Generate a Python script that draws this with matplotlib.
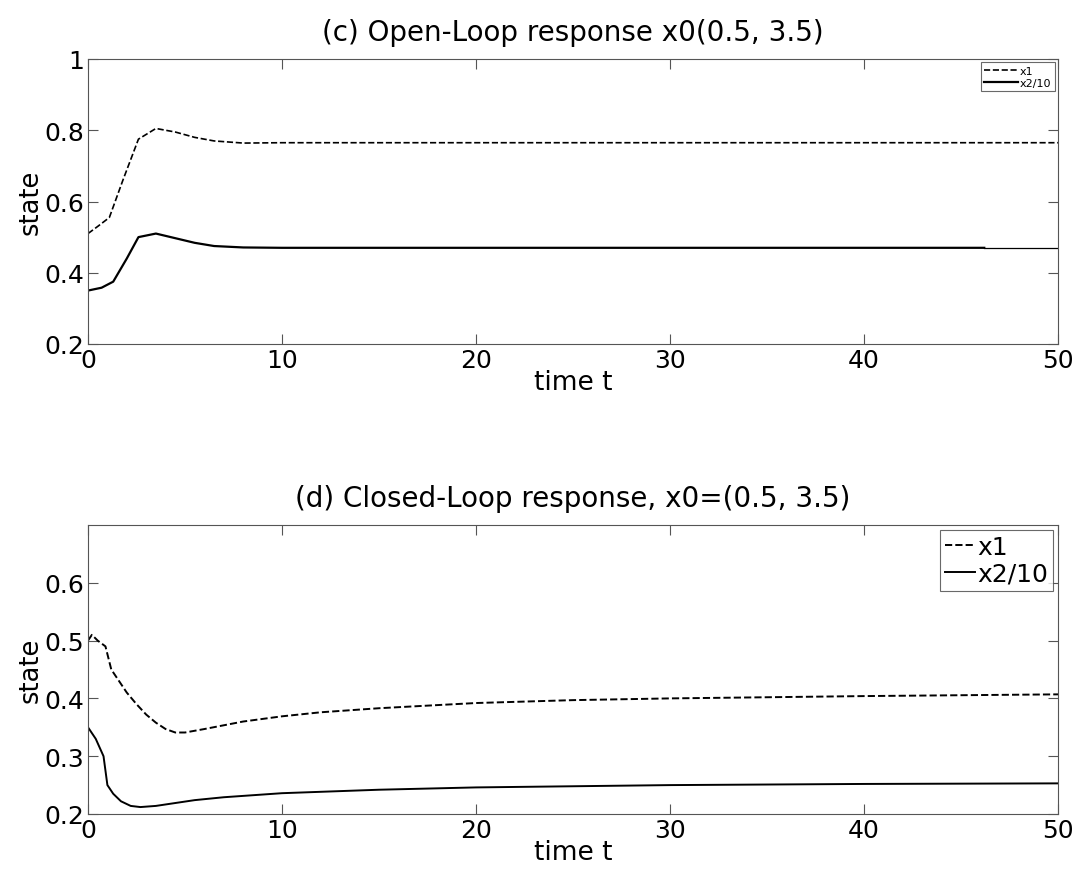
import numpy as np
import matplotlib.pyplot as plt

plt.rcParams['font.family'] = ['DejaVu Sans']

# (c) open loop
t_open = [0, 0.5, 1.1, 1.8, 2.6, 3.5, 4.5, 5.5, 6.5, 8, 10, 15, 20, 30, 40, 50]
x1_open = [0.51, 0.53, 0.555, 0.66, 0.775, 0.805, 0.795, 0.78, 0.77, 0.764, 0.765, 0.765, 0.765, 0.765, 0.765, 0.765]
t_open2 = [0, 0.7, 1.3, 2.0, 2.6, 3.5, 4.5, 5.5, 6.5, 8, 10, 20, 30, 40, 46.2]
x2_open = [0.35, 0.358, 0.375, 0.44, 0.5, 0.51, 0.497, 0.484, 0.475, 0.471, 0.47, 0.47, 0.47, 0.47, 0.47]

# (d) closed loop
t_closed = [0, 0.2, 0.5, 0.9, 1.2, 1.6, 2, 2.5, 3, 3.5, 4, 4.5, 5, 6, 8, 10, 12, 15, 20, 25, 30, 40, 50]
x1_closed = [0.5, 0.51, 0.5, 0.49, 0.45, 0.43, 0.41, 0.39, 0.372, 0.358, 0.347, 0.341, 0.341, 0.347, 0.36, 0.369, 0.376, 0.383, 0.392, 0.397, 0.4, 0.404, 0.407]
t_closed2 = [0, 0.4, 0.8, 1.0, 1.3, 1.7, 2.2, 2.7, 3.5, 4.5, 5.5, 7, 10, 15, 20, 30, 40, 50]
x2_closed = [0.35, 0.33, 0.3, 0.25, 0.235, 0.222, 0.214, 0.212, 0.214, 0.219, 0.224, 0.229, 0.236, 0.242, 0.246, 0.25, 0.252, 0.253]

fig = plt.figure(figsize=(10.77, 8.78), dpi=100)
ax1 = fig.add_axes([88 / 1077, 1 - 345 / 878, 970 / 1077, 285 / 878])
ax2 = fig.add_axes([88 / 1077, 1 - 815 / 878, 970 / 1077, 289 / 878])

for ax in (ax1, ax2):
    ax.tick_params(direction='in', top=True, right=True, labelsize=18, length=7, color='#555555', pad=3)
    for s in ax.spines.values():
        s.set_color('#555555')
    ax.set_xlim(0, 50)
    ax.set_xticks([0, 10, 20, 30, 40, 50])
    ax.set_xlabel('time t', fontsize=19, labelpad=-2)
    ax.set_ylabel('state', fontsize=18.5, labelpad=0)

ax1.plot(t_open, x1_open, 'k--', lw=1.2, label='x1')
ax1.plot(t_open2, x2_open, 'k-', lw=1.6, label='x2/10')
ax1.plot([46.2, 50], [0.47, 0.47], 'k-', lw=0.9)
ax1.set_ylim(0.2, 1)
ax1.set_yticks([0.2, 0.4, 0.6, 0.8, 1])
ax1.set_yticklabels(['0.2', '0.4', '0.6', '0.8', '1'])
ax1.set_title('(c) Open-Loop response x0(0.5, 3.5)', fontsize=20, pad=14)
leg1 = ax1.legend(loc='upper right', fontsize=8, handlelength=3, handletextpad=0.2,
                  fancybox=False, edgecolor='#444444', borderpad=0.3, labelspacing=0.2,
                  borderaxespad=0.3)
leg1.get_frame().set_linewidth(0.8)

ax2.plot(t_closed, x1_closed, 'k--', lw=1.4, label='x1')
ax2.plot(t_closed2, x2_closed, 'k-', lw=1.4, label='x2/10')
ax2.set_ylim(0.2, 0.7)
ax2.set_yticks([0.2, 0.3, 0.4, 0.5, 0.6])
ax2.set_title('(d) Closed-Loop response, x0=(0.5, 3.5)', fontsize=20, pad=14)
leg2 = ax2.legend(loc='upper right', fontsize=18, handlelength=1.2, handletextpad=0.1,
                  fancybox=False, edgecolor='#444444', borderpad=0.2, labelspacing=0.1,
                  borderaxespad=0.2)
leg2.get_frame().set_linewidth(0.8)

fig.savefig('out.png', dpi=100)
